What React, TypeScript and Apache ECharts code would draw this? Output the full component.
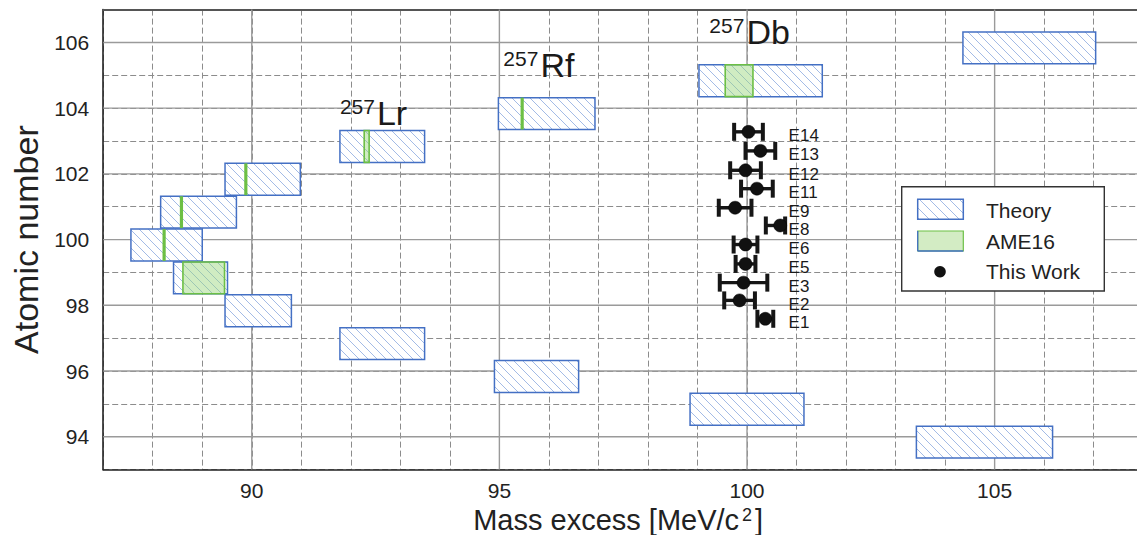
import React, { useEffect, useRef } from 'react';
import * as echarts from 'echarts';

// ---- data ----
const theoryZ = [94, 95, 96, 97, 98, 99, 100, 101, 102, 103, 104, 105, 106];
const theoryLow = [103.42, 98.85, 94.9, 91.78, 89.46, 88.42, 87.56, 88.16, 89.46, 91.78, 94.98, 99.03, 104.36];
const theoryHigh = [106.17, 101.15, 96.6, 93.49, 90.8, 89.51, 89.0, 89.69, 90.98, 93.49, 96.93, 101.52, 107.04];

const ameZ = [99, 100, 101, 102, 103, 104, 105];
const ameMass = [89.03, 88.23, 88.58, 89.88, 92.32, 95.46, 99.84];
const ameErr = [0.42, 0.01, 0.01, 0.01, 0.05, 0.01, 0.28];

const workLabels = ['E1', 'E2', 'E3', 'E5', 'E6', 'E8', 'E9', 'E11', 'E12', 'E13', 'E14'];
const workMass = [100.37, 99.85, 99.93, 99.97, 99.97, 100.67, 99.76, 100.2, 99.97, 100.27, 100.03];
const workErrLow = [0.16, 0.31, 0.48, 0.2, 0.24, 0.29, 0.33, 0.32, 0.31, 0.3, 0.29];
const workErrHigh = [0.16, 0.31, 0.48, 0.2, 0.24, 0.1, 0.33, 0.32, 0.31, 0.3, 0.29];
const workY = [97.59, 98.15, 98.69, 99.26, 99.85, 100.43, 100.97, 101.55, 102.11, 102.7, 103.28];
const workLabelMass = 100.84;

const nuclideSup = ['257', '257', '257'];
const nuclideSym = ['Lr', 'Rf', 'Db'];
const nuclideMass = [91.78, 95.08, 99.24];
const nuclideY = [103.85, 105.31, 106.31];

const xMajor = [90, 95, 100, 105];
const yMajor = [94, 96, 98, 100, 102, 104, 106];

const legendNames = ['Theory', 'AME16', 'This Work'];

// ---- styles ----
const FONT = "'Liberation Sans', Arial, Helvetica, sans-serif";
const BLUE = '#4470c4';
const HATCH = '#a3bbe6';
const GREEN = '#6cbf45';
const GREEN_FILL = 'rgba(150, 212, 120, 0.45)';
const BOX_UP = 0.32;
const BOX_DOWN = 0.65;

function hatchLines(x1: number, y1: number, x2: number, y2: number, s: number, z?: number) {
  const out: any[] = [];
  const cMin = x1 - y2;
  const cMax = x2 - y1;
  for (let c = Math.ceil(cMin / s) * s; c <= cMax; c += s) {
    const xa = Math.max(x1, y1 + c);
    const xb = Math.min(x2, y2 + c);
    if (xb > xa) {
      const el: any = {
        type: 'line',
        shape: { x1: xa, y1: xa - c, x2: xb, y2: xb - c },
        style: { stroke: HATCH, lineWidth: 1 },
      };
      if (z !== undefined) el.z = z;
      out.push(el);
    }
  }
  return out;
}

export default function App() {
  const ref = useRef<HTMLDivElement>(null);

  useEffect(() => {
    if (!ref.current) return;
    const chart = echarts.init(ref.current, null, { renderer: 'svg' });

    const theoryData = theoryZ.map((z, i) => [theoryLow[i], theoryHigh[i], z]);
    const ameData = ameZ.map((z, i) => [ameMass[i] - ameErr[i], ameMass[i] + ameErr[i], z]);
    const workData = workLabels.map((n, i) => ({ name: n, value: [workMass[i], workY[i]] }));
    const errData = workLabels.map((n, i) => [workMass[i], workY[i], workErrLow[i], workErrHigh[i]]);
    const labelData = workLabels.map((n, i) => ({ name: n, value: [workLabelMass, workY[i]] }));
    const nucData = nuclideSym.map((s, i) => ({ name: s, value: [nuclideMass[i], nuclideY[i]] }));

    // legend graphic (pixel layout)
    const lx = 917.7, lw = 45.6, lh = 20;
    const textStyle = (t: string) => ({ text: t, font: `21px ${FONT}`, fill: '#222', align: 'left', verticalAlign: 'middle' });
    const legend: any[] = [
      { type: 'rect', z: 100, shape: { x: 901.7, y: 186.7, width: 202.6, height: 104.3 }, style: { fill: '#fff', stroke: '#333', lineWidth: 1.4 } },
      { type: 'rect', z: 101, shape: { x: lx, y: 199.3, width: lw, height: lh }, style: { fill: '#fff' } },
      ...hatchLines(lx, 199.3, lx + lw, 199.3 + lh, 10, 102),
      { type: 'rect', z: 103, shape: { x: lx, y: 199.3, width: lw, height: lh }, style: { fill: 'none', stroke: BLUE, lineWidth: 1.5 } },
      { type: 'rect', z: 101, shape: { x: lx, y: 231, width: lw, height: lh }, style: { fill: '#d3ecc4', stroke: GREEN, lineWidth: 1.2 } },
      { type: 'line', z: 103, shape: { x1: lx, y1: 231, x2: lx, y2: 251 }, style: { stroke: BLUE, lineWidth: 1.3 } },
      { type: 'line', z: 103, shape: { x1: lx, y1: 251, x2: lx + lw, y2: 251 }, style: { stroke: BLUE, lineWidth: 1.3 } },
      { type: 'circle', z: 103, shape: { cx: 940, cy: 271.7, r: 5.8 }, style: { fill: '#111' } },
      { type: 'text', z: 103, x: 986, y: 210, style: textStyle(legendNames[0]) },
      { type: 'text', z: 103, x: 986, y: 241.7, style: textStyle(legendNames[1]) },
      { type: 'text', z: 103, x: 986, y: 271, style: textStyle(legendNames[2]) },
    ];

    const option: any = {
      animation: false,
      textStyle: { fontFamily: FONT },
      grid: { left: 103.2, top: 9.6, width: 1040, height: 460, outerBoundsMode: 'none', containLabel: false },
      xAxis: [
        {
          type: 'value',
          min: 87,
          max: 108,
          interval: 1,
          axisLine: { show: true, onZero: false, lineStyle: { color: '#222', width: 1.6 } },
          axisTick: { show: false },
          axisLabel: {
            interval: 0,
            fontSize: 21,
            color: '#222',
            fontFamily: FONT,
            margin: 10,
            formatter: (v: number) => (v % 5 === 0 ? String(v) : ''),
          },
          splitLine: { show: true, lineStyle: { color: '#8c8c8c', width: 1, type: [6, 3] } },
          name: 'Mass excess [MeV/c{s|2}]',
          nameLocation: 'middle',
          nameGap: 33,
          nameTextStyle: {
            fontSize: 29,
            color: '#222',
            fontFamily: FONT,
            padding: [0, 10, 0, 0],
            rich: { s: { fontSize: 18, verticalAlign: 'top', fontFamily: FONT, color: '#222', padding: [0, 3, 0, 3] } },
          },
        },
        {
          type: 'value',
          position: 'top',
          min: 87,
          max: 108,
          interval: 1,
          axisLine: { show: true, onZero: false, lineStyle: { color: '#555', width: 2 } },
          axisTick: { show: false },
          axisLabel: { show: false },
          splitLine: { show: false },
        },
      ],
      yAxis: {
        type: 'value',
        min: 93,
        max: 107,
        interval: 1,
        axisLine: { show: true, onZero: false, lineStyle: { color: '#222', width: 1.6 } },
        axisTick: { show: false },
        axisLabel: {
          fontSize: 21,
          color: '#222',
          fontFamily: FONT,
          margin: 14,
          formatter: (v: number) => (v % 2 === 0 ? String(v) : ''),
        },
        splitLine: { show: true, lineStyle: { color: '#8c8c8c', width: 1, type: [6, 3] } },
        name: 'Atomic number',
        nameLocation: 'middle',
        nameGap: 60,
        nameTextStyle: { fontSize: 34, color: '#222', fontFamily: FONT },
      },
      series: [
        {
          type: 'custom',
          name: 'xmajor',
          silent: true,
          z: 1,
          data: xMajor.map((v) => [v, 100]),
          renderItem: (params: any, api: any) => {
            const cs = params.coordSys;
            const p = api.coord([api.value(0), 100]);
            return {
              type: 'line',
              shape: { x1: p[0], y1: cs.y, x2: p[0], y2: cs.y + cs.height },
              style: { stroke: '#9a9a9a', lineWidth: 1.4 },
            };
          },
        },
        {
          type: 'custom',
          name: 'ymajor',
          silent: true,
          z: 1,
          data: yMajor.map((v) => [90, v]),
          renderItem: (params: any, api: any) => {
            const cs = params.coordSys;
            const p = api.coord([90, api.value(1)]);
            return {
              type: 'line',
              shape: { x1: cs.x, y1: p[1], x2: cs.x + cs.width, y2: p[1] },
              style: { stroke: '#9a9a9a', lineWidth: 1.4 },
            };
          },
        },
        {
          type: 'custom',
          name: 'Theory',
          silent: true,
          z: 2,
          clip: true,
          encode: { x: [0, 1], y: 2 },
          data: theoryData,
          renderItem: (params: any, api: any) => {
            const z = api.value(2);
            const a = api.coord([api.value(0), z + BOX_UP]);
            const b = api.coord([api.value(1), z - BOX_DOWN]);
            const x1 = a[0], y1 = a[1], x2 = b[0], y2 = b[1];
            return {
              type: 'group',
              children: [
                { type: 'rect', shape: { x: x1, y: y1, width: x2 - x1, height: y2 - y1 }, style: { fill: '#fff' } },
                ...hatchLines(x1, y1, x2, y2, 9),
                {
                  type: 'rect',
                  shape: { x: x1, y: y1, width: x2 - x1, height: y2 - y1 },
                  style: { fill: 'none', stroke: BLUE, lineWidth: 1.5 },
                },
              ],
            };
          },
        },
        {
          type: 'custom',
          name: 'AME16',
          silent: true,
          z: 3,
          encode: { x: [0, 1], y: 2 },
          data: ameData,
          renderItem: (params: any, api: any) => {
            const z = api.value(2);
            const a = api.coord([api.value(0), z + BOX_UP]);
            const b = api.coord([api.value(1), z - BOX_DOWN]);
            const x1 = a[0], x2 = b[0];
            const y1 = a[1], y2 = b[1];
            if (x2 - x1 < 3) {
              const c = (x1 + x2) / 2;
              return {
                type: 'rect',
                shape: { x: c - 1.6, y: y1, width: 3.2, height: y2 - y1 },
                style: { fill: GREEN },
              };
            }
            return {
              type: 'rect',
              shape: { x: x1, y: y1, width: x2 - x1, height: y2 - y1 },
              style: { fill: GREEN_FILL, stroke: GREEN, lineWidth: 1.6 },
            };
          },
        },
        {
          type: 'custom',
          name: 'errbars',
          silent: true,
          z: 4,
          encode: { x: 0, y: 1 },
          data: errData,
          renderItem: (params: any, api: any) => {
            const m = api.value(0), y = api.value(1);
            const l = api.coord([m - api.value(2), y]);
            const r = api.coord([m + api.value(3), y]);
            const col = '#161616';
            return {
              type: 'group',
              children: [
                { type: 'line', shape: { x1: l[0], y1: l[1], x2: r[0], y2: r[1] }, style: { stroke: col, lineWidth: 3.4 } },
                { type: 'line', shape: { x1: l[0], y1: l[1] - 9, x2: l[0], y2: l[1] + 9 }, style: { stroke: col, lineWidth: 4 } },
                { type: 'line', shape: { x1: r[0], y1: r[1] - 9, x2: r[0], y2: r[1] + 9 }, style: { stroke: col, lineWidth: 4 } },
              ],
            };
          },
        },
        {
          type: 'scatter',
          name: 'This Work',
          silent: true,
          z: 5,
          symbol: 'circle',
          symbolSize: 13,
          itemStyle: { color: '#111', borderColor: '#000', borderWidth: 0.5, opacity: 1 },
          data: workData,
        },
        {
          type: 'custom',
          name: 'worklabels',
          silent: true,
          z: 5,
          encode: { x: 0, y: 1 },
          data: labelData,
          renderItem: (params: any, api: any) => {
            const p = api.coord([api.value(0), api.value(1)]);
            return {
              type: 'text',
              x: p[0],
              y: p[1] + 4,
              style: {
                text: workLabels[params.dataIndex],
                font: `17px ${FONT}`,
                fill: '#1a1a1a',
                align: 'left',
                verticalAlign: 'middle',
              },
            };
          },
        },
        {
          type: 'custom',
          name: 'nuclides',
          silent: true,
          z: 6,
          encode: { x: 0, y: 1 },
          data: nucData,
          renderItem: (params: any, api: any) => {
            const i = params.dataIndex;
            const p = api.coord([api.value(0), api.value(1)]);
            return {
              type: 'text',
              x: p[0],
              y: p[1],
              style: {
                text: `{s|${nuclideSup[i]}}{e|${nuclideSym[i]}}`,
                align: 'left',
                verticalAlign: 'middle',
                rich: {
                  s: { fontSize: 21, fontFamily: FONT, fill: '#1a1a1a', verticalAlign: 'top', padding: [0, 2, 0, 0] },
                  e: { fontSize: 34, fontFamily: FONT, fill: '#1a1a1a' },
                },
              },
            };
          },
        },
      ],
      graphic: legend,
    };

    chart.setOption(option);
    return () => {
      chart.dispose();
    };
  }, []);

  return (
    <div
      ref={ref}
      style={{ position: 'fixed', left: 0, top: 0, width: 1160, height: 535, background: '#fff' }}
    />
  );
}
